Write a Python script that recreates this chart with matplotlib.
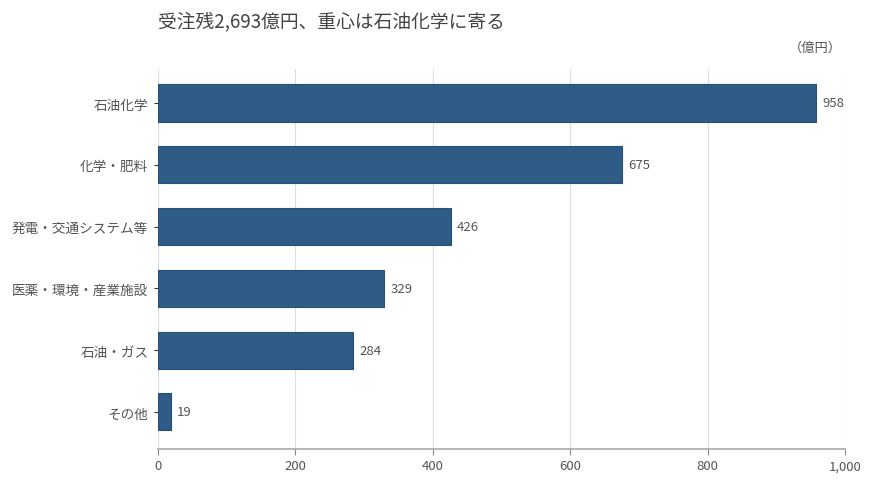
import matplotlib
matplotlib.use("Agg")
import matplotlib.pyplot as plt
from matplotlib.ticker import FuncFormatter

plt.rcParams['font.family'] = ['Noto Sans CJK JP', 'DejaVu Sans']

categories = ["石油化学", "化学・肥料", "発電・交通システム等", "医薬・環境・産業施設", "石油・ガス", "その他"]
values = [958, 675, 426, 329, 284, 19]
xticks = [0, 200, 400, 600, 800, 1000]
title = "受注残2,693億円、重心は石油化学に寄る"
unit = "（億円）"

fig = plt.figure(figsize=(8.7, 4.85), dpi=100)
ax = fig.add_axes([158/870, 1-450/485, (845-158)/870, (450-70)/485])

bar_color = "#2e5c87"
text_color = "#555555"
ypos = list(range(len(categories)))
ax.barh(ypos, values, height=0.6, color=bar_color, edgecolor="#274f75", linewidth=0.8, zorder=3)
for y, v in zip(ypos, values):
    ax.text(v + 9, y, f"{v}", va="center", ha="left", fontsize=9.5, color=text_color)

ax.set_ylim(5.6, -0.55)
ax.set_xlim(0, 1000)
ax.set_yticks(ypos)
ax.set_yticklabels(categories, fontsize=9.8, color=text_color)
ax.set_xticks(xticks)
ax.xaxis.set_major_formatter(FuncFormatter(lambda x, p: f"{int(x):,}"))
ax.tick_params(axis='x', labelsize=9.5, colors=text_color, length=4, color="#888888")
ax.tick_params(axis='y', length=3, color="#333333", pad=4)
ax.grid(axis='x', color="#dddddd", linewidth=0.8, zorder=0)
for s in ["top", "right", "left"]:
    ax.spines[s].set_visible(False)
ax.spines["bottom"].set_color("#aaaaaa")
ax.spines["bottom"].set_linewidth(1.2)

fig.text(158/870, 1-22/485, title, fontsize=13.5, color="#444444", ha="left", va="center")
fig.text(842/870, 1-48/485, unit, fontsize=9.5, color=text_color, ha="right", va="center")

fig.savefig("out.png", dpi=100)
